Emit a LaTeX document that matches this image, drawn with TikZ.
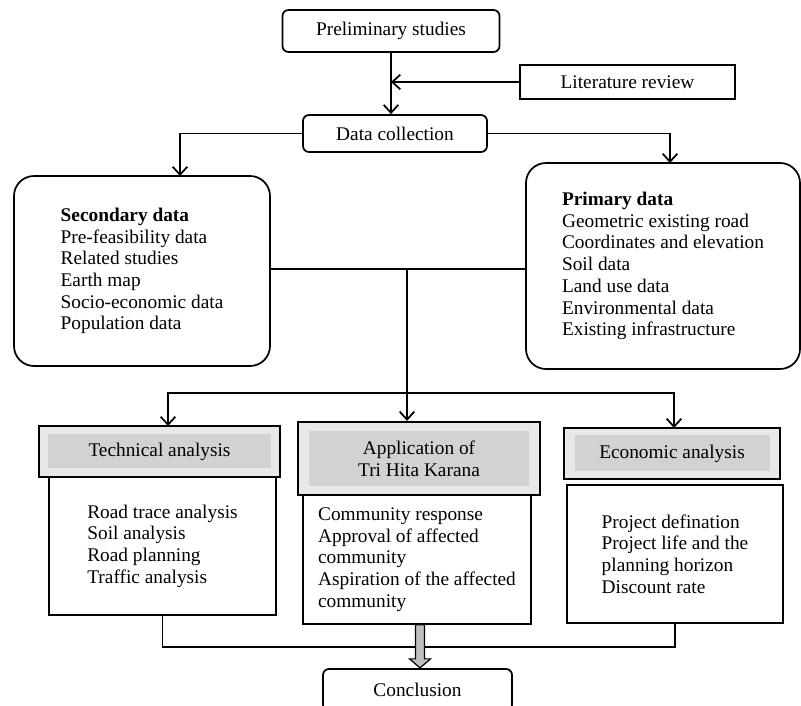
\documentclass[tikz,border=0pt]{standalone}
\usepackage{fontspec}
\setmainfont{Liberation Serif}
\usetikzlibrary{arrows.meta, positioning}

\tikzset{
  box/.style={draw, line width=1.3pt, align=left},
  rbox/.style={box, rounded corners=4.5pt},
  bigbox/.style={box, rounded corners=15pt},
  headout/.style={draw, line width=1.7pt, fill=gray!18},
  headin/.style={fill=gray!35, align=center},
  link/.style={line width=1.3pt},
  fatarrow/.style={draw, line width=0.9pt, fill=gray!50}
}

\begin{document}
\begin{tikzpicture}[x=0.75pt, y=-0.75pt, >={Straight Barb[length=6pt,width=11pt]},
  every node/.style={font=\fontsize{14.5}{16.3}\selectfont}]
\clip (0,0) rectangle (801,706);

\node[rbox, minimum width=162.75pt, minimum height=31.5pt] (prelim) at (391,31) {Preliminary studies};
\node[box, minimum width=161.25pt, minimum height=25.5pt] (litrev) at (627.5,82) {Literature review};
\node[rbox, minimum width=138pt, minimum height=27.75pt] (datacol) at (395,133.5) {Data collection};
\node[bigbox, minimum width=192pt, minimum height=142.5pt] (second) at (142,271)
  {\textbf{Secondary data}\\Pre-feasibility data\\Related studies\\Earth map\\Socio-economic data\\Population data};
\node[bigbox, minimum width=205.5pt, minimum height=154.5pt] (primary) at (663,266)
  {\textbf{Primary data}\\Geometric existing road\\Coordinates and elevation\\Soil data\\Land use data\\Environmental data\\Existing infrastructure};

% analysis headers and their lists
\node[headout, minimum width=180.75pt, minimum height=38.25pt] (techhead) at (159.5,451.5) {};
\node[headin, minimum width=167.25pt, minimum height=25.5pt] (techlab) at (techhead) {Technical analysis};
\node[box, minimum width=170.25pt, minimum height=103.5pt] (techbody) at (162.5,546)
  {Road trace analysis\\Soil analysis\\Road planning\\Traffic analysis};

\node[headout, minimum width=181.5pt, minimum height=54.75pt] (apphead) at (419,458.5) {};
\node[headin, minimum width=165pt, minimum height=40.5pt] (applab) at (apphead) {Application of\\Tri Hita Karana};
\node[box, minimum width=171pt, minimum height=96.75pt] (appbody) at (417,559.5)
  {Community response\\Approval of affected\\community\\Aspiration of the affected\\community};

\node[headout, minimum width=162pt, minimum height=38.25pt] (ecohead) at (672,453.5) {};
\node[headin, minimum width=146.25pt, minimum height=27pt] (ecolab) at (ecohead) {Economic analysis};
\node[box, minimum width=162pt, minimum height=103.5pt] (ecobody) at (675,554)
  {Project defination\\Project life and the\\planning horizon\\Discount rate};

\node[rbox, minimum width=141.75pt, minimum height=31.5pt] (concl) at (417.5,690) {Conclusion};

\coordinate (secin) at (180,176);
\coordinate (priin) at (670,163);
\coordinate (junc) at (407,269);
\coordinate (split) at (407,393);
\coordinate (techin) at (168,426);
\coordinate (ecoin) at (674,428);
\coordinate (bot) at (417,647);

\draw[link,->] (prelim.south) -- (prelim.south |- datacol.north);
\draw[link,->] (litrev.west) -- (prelim.south |- litrev.west);
\draw[link,->] (datacol.west) -| (secin);
\draw[link,->] (datacol.east) -| (priin);
\draw[link] (second.east |- junc) -- (primary.west |- junc);
\draw[link] (junc) -- (split);
\draw[link,->] (split) -- (apphead.north -| split);
\draw[link,->] (split) -| (techin);
\draw[link,->] (split) -| (ecoin);
\draw[link] (techbody.south) |- (bot) -| (ecobody.south);
\draw[fatarrow] ([xshift=-1.1pt]appbody.south) -- ++(0,34) -- ++(-6,0) -- ++(10.5,9)
  -- ++(10.5,-9) -- ++(-6,0) -- ++(0,-34) -- cycle;
\end{tikzpicture}
\end{document}
